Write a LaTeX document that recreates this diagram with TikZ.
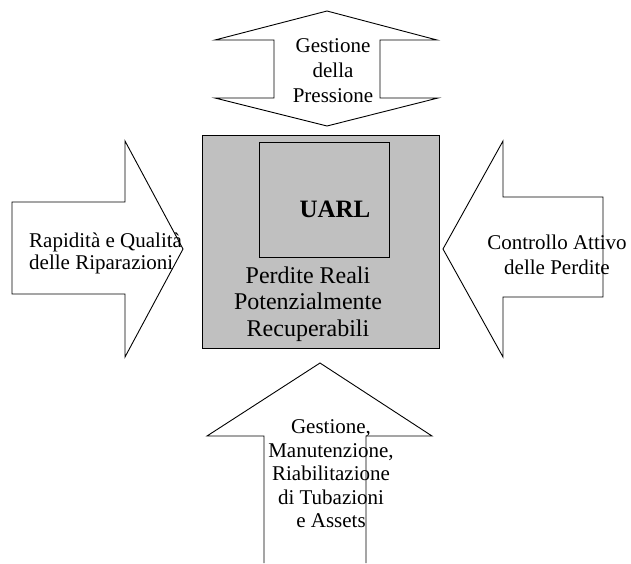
\documentclass[tikz,border=0pt]{standalone}
\usepackage{fontspec}
\setmainfont{Liberation Serif}
\usetikzlibrary{positioning}
\definecolor{boxgray}{RGB}{192,192,192}

\begin{document}
\begin{tikzpicture}[x=1pt,y=-1pt,
    outline/.style={draw,line width=.9pt,line join=miter},
    lbl/.style={inner sep=0pt,align=center,font=\fontsize{21}{25}\selectfont}]
  \useasboundingbox (0,0) rectangle (631,563);
  % central box
  \draw[outline,fill=boxgray] (202,135) rectangle (439,348);
  \draw[outline] (259,142) rectangle (389,257);
  % arrows
  \draw[outline] (327,11)--(437,40)--(380,40)--(380,98)--(438,98)--(327,126)
    --(215,98)--(274,98)--(274,40)--(215,40)--cycle;
  \draw[outline] (12,202)--(125,202)--(125,141)--(183,249)--(125,357)--(125,294)--(12,294)--cycle;
  \draw[outline] (603,197)--(503,197)--(503,141)--(443,249)--(503,357)--(503,297)--(603,297)--cycle;
  \draw[outline] (264,563)--(264,436)--(207,436)--(320,363)--(432,436)--(366,436)--(366,563);
  % labels
  \node[lbl] (press) at (333,71) {Gestione\\della\\Pressione};
  \node[lbl,font=\fontsize{25}{30}\selectfont\bfseries] (uarl) at (335,209) {UARL};
  \node[lbl,font=\fontsize{24}{26.5}\selectfont] (perd) at (308,304) {Perdite Reali\\Potenzialmente\\Recuperabili};
  \node[lbl,align=left,anchor=west,font=\fontsize{21}{22}\selectfont] (ripar) at (29,253) {Rapidità e Qualità\\delle Riparazioni};
  \node[lbl] (contr) at (557,255) {Controllo Attivo\\delle Perdite};
  \node[lbl,font=\fontsize{21}{23.5}\selectfont] (manut) at (331,474) {Gestione,\\Manutenzione,\\Riabilitazione\\di Tubazioni\\e Assets};
\end{tikzpicture}
\end{document}
